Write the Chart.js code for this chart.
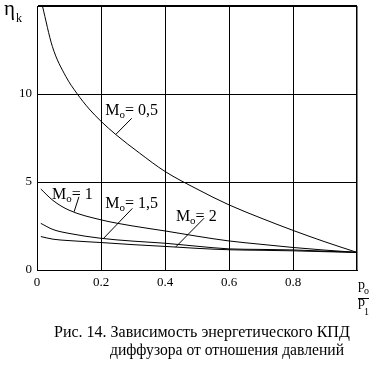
<!DOCTYPE html>
<html>
<head>
<meta charset="utf-8">
<script src="https://cdn.jsdelivr.net/npm/chart.js@4"></script>
<style>
  html, body { margin: 0; padding: 0; background: #fff; }
  #wrap { width: 373px; height: 372px; }
</style>
</head>
<body>
<div id="wrap"><canvas id="effChart" width="373" height="372"></canvas></div>
<script>
// pressure ratio p0/p1 and diffuser energy efficiency for each Mach number
const xM05 = [0.017, 0.048, 0.09, 0.124, 0.163, 0.2, 0.246, 0.32, 0.4, 0.5, 0.6, 0.7, 0.8, 0.9, 1.0];
const yM05 = [15, 12.7, 11.0, 10.05, 9.15, 8.45, 7.7, 6.65, 5.6, 4.6, 3.7, 2.95, 2.25, 1.6, 1.0];

const xM = [0.012, 0.05, 0.1, 0.2, 0.3, 0.4, 0.5, 0.6, 0.7, 0.8, 0.9, 1.0];
const yM1 = [4.6, 3.95, 3.4, 2.85, 2.5, 2.22, 1.92, 1.65, 1.46, 1.28, 1.13, 1.0];
const yM15 = [2.65, 2.3, 2.08, 1.8, 1.64, 1.52, 1.35, 1.2, 1.17, 1.14, 1.07, 1.0];
const yM2 = [1.9, 1.75, 1.67, 1.56, 1.44, 1.34, 1.23, 1.15, 1.12, 1.09, 1.04, 1.0];

const machLabels = ['0,5', '1', '1,5', '2'];

const xTicks = ['0', '0.2', '0.4', '0.6', '0.8'];
const yTicks = ['0', '5', '10'];

const captionLines = [
    'Рис. 14. Зависимость энергетического КПД',
    'диффузора от отношения давлений'
];

const SERIF = "'Liberation Serif', 'Times New Roman', serif";

function toPoints(xs, ys) {
    return xs.map((x, i) => ({ x: x, y: ys[i] }));
}

function curve(xs, ys) {
    return {
        data: toPoints(xs, ys),
        borderColor: '#000',
        borderWidth: 1,
        pointRadius: 0,
        fill: false,
        cubicInterpolationMode: 'monotone'
    };
}

// where each curve label sits (text left/baseline, leader start, leader end), in data units
const labelSpots = [
    { tx: 0.213, ty: 8.8, lx1: 0.296, ly1: 8.62, lx2: 0.246, ly2: 7.7 },
    { tx: 0.047, ty: 4.03, lx1: 0.131, ly1: 4.16, lx2: 0.116, ly2: 3.31 },
    { tx: 0.213, ty: 3.52, lx1: 0.298, ly1: 3.5, lx2: 0.207, ly2: 1.78 },
    { tx: 0.434, ty: 2.78, lx1: 0.522, ly1: 2.94, lx2: 0.433, ly2: 1.3 }
];

const annotations = {
    id: 'annotations',
    afterDraw(chart) {
        const ctx = chart.ctx;
        const xs = chart.scales.x;
        const ys = chart.scales.y;
        ctx.save();
        ctx.fillStyle = '#000';
        ctx.strokeStyle = '#000';
        ctx.lineWidth = 1;
        ctx.textBaseline = 'alphabetic';
        ctx.textAlign = 'left';

        // curve labels M0 = ...
        labelSpots.forEach((s, i) => {
            let px = xs.getPixelForValue(s.tx);
            const py = ys.getPixelForValue(s.ty);
            ctx.font = '16px ' + SERIF;
            ctx.fillText('M', px, py);
            px += ctx.measureText('M').width;
            ctx.font = '11px ' + SERIF;
            ctx.fillText('o', px, py + 3);
            px += ctx.measureText('o').width;
            ctx.font = '16px ' + SERIF;
            ctx.fillText('= ' + machLabels[i], px, py);

            ctx.beginPath();
            ctx.moveTo(xs.getPixelForValue(s.lx1), ys.getPixelForValue(s.ly1));
            ctx.lineTo(xs.getPixelForValue(s.lx2), ys.getPixelForValue(s.ly2));
            ctx.stroke();
        });

        // y axis title: eta_k
        ctx.font = '21px ' + SERIF;
        ctx.fillText('η', 4, 15);
        ctx.font = '12px ' + SERIF;
        ctx.fillText('k', 16, 22);

        // x axis title: p0 / p1
        ctx.font = '14px ' + SERIF;
        ctx.fillText('p', 358, 289);
        ctx.fillText('p', 358, 306);
        ctx.font = '10px ' + SERIF;
        ctx.fillText('o', 364, 294);
        ctx.fillText('1', 364, 315);
        ctx.beginPath();
        ctx.moveTo(358, 298.5);
        ctx.lineTo(369, 298.5);
        ctx.stroke();

        // caption
        ctx.font = '16px ' + SERIF;
        ctx.fillText(captionLines[0], 54, 337, 297);
        ctx.fillText(captionLines[1], 110, 355, 234);
        ctx.restore();
    }
};

function fixPadding(scale) {
    scale.paddingTop = 0;
    scale.paddingBottom = 0;
    scale.paddingLeft = 0;
    scale.paddingRight = 0;
}

new Chart(document.getElementById('effChart').getContext('2d'), {
    type: 'line',
    data: {
        datasets: [
            curve(xM05, yM05),
            curve(xM, yM1),
            curve(xM, yM15),
            curve(xM, yM2)
        ]
    },
    options: {
        responsive: false,
        animation: false,
        events: [],
        layout: {
            padding: { top: 6, right: 16, left: 0, bottom: 0 }
        },
        plugins: {
            legend: { display: false },
            tooltip: { enabled: false }
        },
        scales: {
            x: {
                type: 'linear',
                min: 0,
                max: 1,
                afterFit: (scale) => { scale.height = 102; fixPadding(scale); },
                ticks: {
                    stepSize: 0.2,
                    color: '#000',
                    font: { family: SERIF, size: 13 },
                    padding: 5,
                    maxRotation: 0,
                    callback: (value) => {
                        const i = Math.round(value / 0.2);
                        return xTicks[i] !== undefined ? xTicks[i] : '';
                    }
                },
                grid: {
                    color: '#000',
                    drawTicks: false,
                    lineWidth: (c) => (c.tick && c.tick.value === 1 ? 1.5 : 1)
                },
                border: { color: '#000', width: 1 }
            },
            y: {
                min: 0,
                max: 15,
                afterFit: (scale) => { scale.width = 37; fixPadding(scale); },
                ticks: {
                    stepSize: 5,
                    color: '#000',
                    font: { family: SERIF, size: 13 },
                    padding: 5,
                    callback: (value) => {
                        const i = Math.round(value / 5);
                        return yTicks[i] !== undefined ? yTicks[i] : '';
                    }
                },
                grid: {
                    color: '#000',
                    drawTicks: false,
                    lineWidth: (c) => (c.tick && c.tick.value === 15 ? 2 : 1)
                },
                border: { color: '#000', width: 1 }
            }
        }
    },
    plugins: [annotations]
});
</script>
</body>
</html>
